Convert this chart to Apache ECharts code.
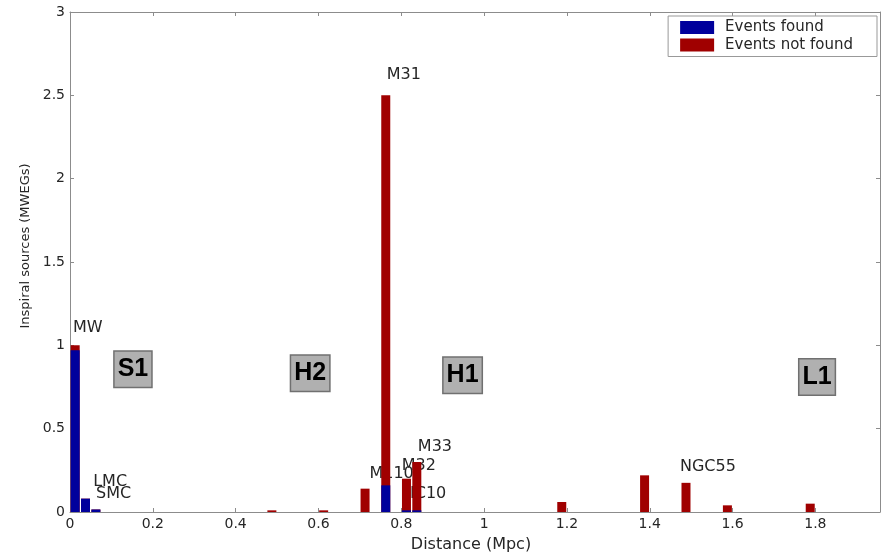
<!DOCTYPE html>
<html>
<head>
<meta charset="utf-8">
<script src="https://cdn.jsdelivr.net/npm/echarts@6/dist/echarts.min.js"></script>
<style>
  html, body { margin: 0; padding: 0; background: #fff; }
  #chart { width: 882px; height: 558px; }
</style>
</head>
<body>
<div id="chart"></div>
<script>
// Histogram bin centres (Mpc), bin width 0.025
const binCenters = [0.0125, 0.0375, 0.0625, 0.4875, 0.6125, 0.7125, 0.7625, 0.8125, 0.8375, 1.1875, 1.3875, 1.4875, 1.5875, 1.7875];
// Inspiral sources (MWEGs) per bin
const eventsFound    = [0.97, 0.08, 0.015, 0, 0, 0, 0.16, 0.01, 0.01, 0, 0, 0, 0, 0];
const eventsNotFound = [0.03, 0, 0, 0.01, 0.01, 0.14, 2.34, 0.19, 0.29, 0.06, 0.22, 0.175, 0.04, 0.05];

// Galaxy name annotations: [distance, MWEGs, name]
const galaxyLabels = [
  [0.007, 1.107, 'MW'],
  [0.056, 0.179, 'LMC'],
  [0.063, 0.110, 'SMC'],
  [0.765, 2.625, 'M31'],
  [0.723, 0.229, 'M110'],
  [0.801, 0.276, 'M32'],
  [0.840, 0.391, 'M33'],
  [0.821, 0.111, 'IC10'],
  [1.473, 0.269, 'NGC55']
];

// Detector reach markers: [distance, MWEGs, detector]
const detectorMarks = [
  [0.152, 0.857, 'S1'],
  [0.580, 0.833, 'H2'],
  [0.948, 0.821, 'H1'],
  [1.804, 0.810, 'L1']
];

const xTickStep = 0.2;
const yTickStep = 0.5;

const BLUE = '#00009c';
const RED = '#a00000';
const AXIS = '#8c8c8c';
const TXT = '#262626';
const FONT = '"DejaVu Sans", Verdana, sans-serif';
const BOX_FONT = '"Liberation Sans", Arial, sans-serif';

const totals = binCenters.map((x, i) => [x, eventsFound[i] + eventsNotFound[i]]);
const foundPts = binCenters.map((x, i) => [x, eventsFound[i]]);

const chart = echarts.init(document.getElementById('chart'), null, { renderer: 'canvas' });

const commonX = {
  type: 'value', min: 0, max: 1.956, interval: xTickStep,
  splitLine: { show: false },
  axisLine: { show: true, onZero: false, lineStyle: { color: AXIS, width: 1 } },
  axisTick: { show: true, inside: true, length: 4, lineStyle: { color: AXIS } }
};
const commonY = {
  type: 'value', min: 0, max: 3, interval: yTickStep,
  splitLine: { show: false },
  axisLine: { show: true, onZero: false, lineStyle: { color: AXIS, width: 1 } },
  axisTick: { show: true, inside: true, length: 4, lineStyle: { color: AXIS } }
};

chart.setOption({
  backgroundColor: '#fff',
  animation: false,
  textStyle: { fontFamily: FONT },
  grid: { left: 70, right: 2, top: 12, bottom: 42 },
  legend: {
    orient: 'vertical',
    right: 5, top: 16,
    padding: [4, 24, 4, 12],
    itemGap: 2.5,
    itemWidth: 34, itemHeight: 13,
    icon: 'rect',
    borderColor: '#999', borderWidth: 1,
    backgroundColor: '#fff',
    textStyle: { fontSize: 15, color: TXT, fontFamily: FONT, padding: [0, 0, 0, 6] },
    data: ['Events found', 'Events not found']
  },
  xAxis: [
    Object.assign({}, commonX, {
      position: 'bottom',
      name: 'Distance (Mpc)', nameLocation: 'middle', nameGap: 25,
      nameTextStyle: { fontSize: 16, color: TXT, fontFamily: FONT, padding: [0, 8, 0, 0] },
      axisLabel: { fontSize: 14, color: TXT, margin: 5, showMaxLabel: false, fontFamily: FONT }
    }),
    Object.assign({}, commonX, { position: 'top', axisLabel: { show: false } })
  ],
  yAxis: [
    Object.assign({}, commonY, {
      position: 'left',
      name: 'Inspiral sources (MWEGs)', nameLocation: 'middle', nameGap: 38,
      nameTextStyle: { fontSize: 13, color: TXT, fontFamily: FONT, padding: [0, 0, 0, 32] },
      axisLabel: { fontSize: 14, color: TXT, margin: 5, fontFamily: FONT }
    }),
    Object.assign({}, commonY, { position: 'right', axisLabel: { show: false } })
  ],
  series: [
    {
      name: 'Galaxies', type: 'scatter', z: 1,
      symbolSize: 0, silent: true,
      itemStyle: { opacity: 1 },
      data: galaxyLabels,
      label: {
        show: true, position: 'right', distance: 0, opacity: 1,
        formatter: p => p.data[2],
        fontSize: 16, color: TXT, fontFamily: FONT
      }
    },
    {
      name: 'Events not found', type: 'bar', z: 2,
      barWidth: 9, barGap: '-100%',
      itemStyle: { color: RED },
      data: totals
    },
    {
      name: 'Events found', type: 'bar', z: 3,
      barWidth: 9, barGap: '-100%',
      itemStyle: { color: BLUE },
      data: foundPts
    },
    {
      name: 'Detectors', type: 'scatter', z: 5,
      symbolSize: 0, silent: true,
      itemStyle: { opacity: 1 },
      data: detectorMarks,
      label: {
        show: true, position: 'inside', opacity: 1,
        formatter: p => p.data[2],
        fontSize: 25, fontWeight: 'bold', color: '#000', fontFamily: BOX_FONT,
        backgroundColor: '#b0b0b0', borderColor: '#707070', borderWidth: 1.5,
        padding: [5, 3, 5, 3], lineHeight: 25
      }
    }
  ]
});
</script>
</body>
</html>
